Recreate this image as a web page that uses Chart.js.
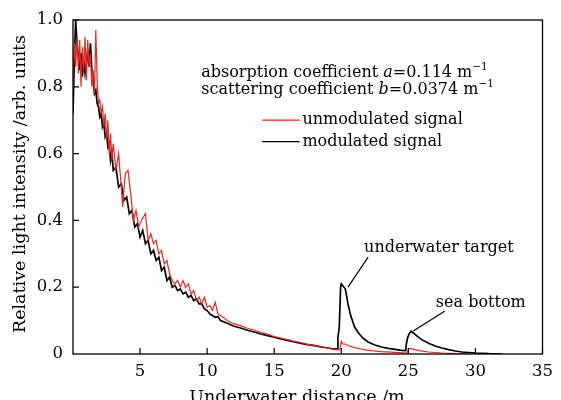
<!DOCTYPE html>
<html>
<head>
<meta charset="utf-8">
<script src="https://cdn.jsdelivr.net/npm/chart.js@4.4.1/dist/chart.umd.min.js"></script>
<style>
html,body{margin:0;padding:0;background:#fff;}
canvas{display:block;}
</style>
</head>
<body>
<canvas id="c" width="561" height="400"></canvas>
<script>
// ---- data ----
const xTicks = [5, 10, 15, 20, 25, 30, 35];
const yTicks = [0, 0.2, 0.4, 0.6, 0.8, 1.0];

const modX = [0.0,0.1,0.2,0.3,0.4,0.5,0.6,0.7,0.8,0.9,1.0,1.1,1.2,1.3,1.4,1.5,1.6,1.7,1.8,1.9,
  2.0,2.1,2.2,2.3,2.4,2.5,2.6,2.7,2.8,2.9,3.0,3.2,3.4,3.6,3.8,4.0,4.2,4.4,4.6,4.8,
  5.0,5.2,5.4,5.6,5.8,6.0,6.2,6.4,6.6,6.8,7.0,7.2,7.4,7.6,7.8,8.0,8.2,8.4,8.6,8.8,
  9.0,9.2,9.4,9.6,9.8,10.0,10.2,10.4,10.6,10.8,11.0,11.5,12.0,12.5,13.0,13.5,14.0,14.5,15.0,15.5,
  16.0,16.5,17.0,17.5,18.0,18.5,19.0,19.5,19.7,19.75,19.85,19.95,20.0,20.1,20.2,20.3,20.5,20.7,21.0,21.3,
  21.6,22.0,22.5,23.0,23.5,24.0,24.5,24.8,24.85,24.95,25.1,25.2,25.4,25.7,26.0,26.5,27.0,27.5,28.0,28.5,
  29.0,30.0,31.0,32.0];
const modY = [0.72,0.88,1.00,0.93,0.89,0.85,0.90,0.83,0.88,0.84,0.87,0.91,0.86,0.93,0.85,0.82,0.78,0.79,0.75,0.74,
  0.71,0.72,0.68,0.69,0.65,0.66,0.62,0.63,0.58,0.60,0.55,0.56,0.50,0.51,0.46,0.47,0.42,0.43,0.38,0.39,
  0.35,0.37,0.33,0.34,0.30,0.31,0.28,0.29,0.25,0.26,0.22,0.23,0.20,0.205,0.19,0.195,0.18,0.185,0.17,0.175,
  0.16,0.165,0.15,0.15,0.135,0.13,0.12,0.115,0.11,0.112,0.10,0.092,0.083,0.078,0.071,0.066,0.060,0.055,0.050,0.045,
  0.041,0.036,0.032,0.028,0.025,0.021,0.018,0.015,0.016,0.05,0.08,0.20,0.21,0.205,0.20,0.195,0.15,0.115,0.08,0.062,
  0.048,0.036,0.027,0.021,0.017,0.014,0.011,0.010,0.03,0.05,0.063,0.068,0.062,0.052,0.043,0.032,0.024,0.018,0.013,0.009,
  0.006,0.003,0.001,0.0];

const unmodX = [0.0,0.1,0.2,0.3,0.4,0.5,0.6,0.7,0.8,0.9,1.0,1.1,1.2,1.3,1.4,1.5,1.6,1.7,1.8,1.9,
  2.0,2.1,2.2,2.3,2.4,2.5,2.6,2.7,2.8,2.9,3.0,3.2,3.4,3.6,3.7,3.9,4.1,4.3,4.5,4.7,
  4.9,5.1,5.4,5.6,5.8,6.0,6.2,6.4,6.6,6.8,7.0,7.2,7.4,7.6,7.8,8.0,8.2,8.4,8.6,8.8,
  9.0,9.2,9.4,9.6,9.8,10.0,10.2,10.4,10.6,10.8,11.0,11.5,12.0,12.5,13.0,13.5,14.0,14.5,15.0,15.5,
  16.0,16.5,17.0,17.5,18.0,18.5,19.0,19.5,19.9,20.0,20.1,20.3,20.6,21.0,21.5,22.0,23.0,24.0,24.9,25.0,
  25.15,25.4,25.8,26.5,27.5,28.5,29.5];
const unmodY = [0.80,0.93,0.86,0.95,0.84,0.94,0.80,0.92,0.85,0.95,0.82,0.94,0.86,0.90,0.80,0.85,0.78,0.97,0.82,0.75,
  0.76,0.72,0.74,0.68,0.72,0.64,0.70,0.60,0.66,0.58,0.63,0.55,0.60,0.50,0.44,0.54,0.55,0.48,0.40,0.43,
  0.38,0.40,0.42,0.34,0.36,0.33,0.34,0.30,0.31,0.27,0.28,0.24,0.22,0.21,0.22,0.20,0.22,0.20,0.21,0.18,
  0.19,0.16,0.17,0.15,0.17,0.14,0.145,0.13,0.155,0.12,0.115,0.10,0.09,0.085,0.077,0.072,0.064,0.06,0.052,0.048,
  0.043,0.038,0.034,0.029,0.026,0.022,0.018,0.013,0.012,0.038,0.03,0.03,0.024,0.019,0.015,0.011,0.007,0.005,0.003,0.014,
  0.017,0.014,0.01,0.006,0.003,0.001,0.0];

const FONT = '"DejaVu Serif", serif';

function pts(xs, ys){ return xs.map((v,i)=>({x:v, y:ys[i]})); }

function drawRich(ctx, x, y, segs){
  let cx = x;
  for (const s of segs){
    ctx.font = s.font;
    ctx.fillText(s.t, cx, y + (s.dy||0));
    cx += ctx.measureText(s.t).width;
  }
}

const decor = {
  id:'decor',
  afterDraw(chart){
    const {ctx, chartArea:{left,right,top,bottom}, scales:{x,y}} = chart;
    ctx.save();
    ctx.strokeStyle = '#000';
    ctx.lineWidth = 1.3;
    ctx.strokeRect(left, top, right-left, bottom-top);
    ctx.lineWidth = 1.2;
    ctx.beginPath();
    for (const v of xTicks){ const px = x.getPixelForValue(v); ctx.moveTo(px, bottom); ctx.lineTo(px, bottom-6); }
    for (const v of yTicks){ if (v===0) continue; const py = y.getPixelForValue(v); ctx.moveTo(left, py); ctx.lineTo(left+6, py); }
    ctx.stroke();

    ctx.fillStyle = '#000';
    ctx.textBaseline = 'middle';
    ctx.textAlign = 'left';
    const f = '16px ' + FONT, fi = 'italic 16px ' + FONT, fs = '10.5px ' + FONT;
    drawRich(ctx, x.getPixelForValue(9.56), y.getPixelForValue(0.842), [
      {t:'absorption coefficient ', font:f},{t:'a', font:fi},{t:'=0.114 m', font:f},{t:'\u22121', font:fs, dy:-6}]);
    drawRich(ctx, x.getPixelForValue(9.56), y.getPixelForValue(0.791), [
      {t:'scattering coefficient ', font:f},{t:'b', font:fi},{t:'=0.0374 m', font:f},{t:'\u22121', font:fs, dy:-6}]);

    // legend
    ctx.lineWidth = 1.2;
    ctx.strokeStyle = '#e8261e';
    ctx.beginPath();
    ctx.moveTo(x.getPixelForValue(14.1), y.getPixelForValue(0.70));
    ctx.lineTo(x.getPixelForValue(16.9), y.getPixelForValue(0.70));
    ctx.stroke();
    ctx.strokeStyle = '#000';
    ctx.beginPath();
    ctx.moveTo(x.getPixelForValue(14.1), y.getPixelForValue(0.636));
    ctx.lineTo(x.getPixelForValue(16.9), y.getPixelForValue(0.636));
    ctx.stroke();
    ctx.font = f;
    ctx.fillText('unmodulated signal', x.getPixelForValue(17.1), y.getPixelForValue(0.70));
    ctx.fillText('modulated signal', x.getPixelForValue(17.1), y.getPixelForValue(0.636));

    // annotations
    ctx.fillText('underwater target', x.getPixelForValue(21.7), y.getPixelForValue(0.317));
    ctx.fillText('sea bottom', x.getPixelForValue(27.05), y.getPixelForValue(0.152));
    ctx.lineWidth = 1.2;
    ctx.beginPath();
    ctx.moveTo(x.getPixelForValue(22.0), y.getPixelForValue(0.29));
    ctx.lineTo(x.getPixelForValue(20.5), y.getPixelForValue(0.20));
    ctx.moveTo(x.getPixelForValue(27.7), y.getPixelForValue(0.128));
    ctx.lineTo(x.getPixelForValue(25.37), y.getPixelForValue(0.069));
    ctx.stroke();

    // axis titles
    ctx.font = '17.5px ' + FONT;
    ctx.textAlign = 'center';
    ctx.fillText('Underwater distance /m', 297, 397);
    ctx.save();
    ctx.translate(20, 184);
    ctx.rotate(-Math.PI/2);
    ctx.fillText('Relative light intensity /arb. units', 0, 0);
    ctx.restore();
    ctx.restore();
  }
};

new Chart(document.getElementById('c'), {
  type: 'line',
  data: {
    datasets: [
      { label:'unmodulated signal', data: pts(unmodX, unmodY), borderColor:'#e8261e', borderWidth:1.2, pointRadius:0, tension:0, fill:false },
      { label:'modulated signal', data: pts(modX, modY), borderColor:'#000', borderWidth:1.7, pointRadius:0, tension:0, fill:false }
    ]
  },
  options: {
    responsive:false, animation:false, devicePixelRatio:1,
    layout:{ padding:{ top:20, right:12, left:0, bottom:0 } },
    plugins:{ legend:{display:false}, tooltip:{enabled:false} },
    scales:{
      x:{ type:'linear', min:0, max:35,
        afterFit(s){ s.height = 46; },
        grid:{ display:false, drawTicks:false },
        border:{ display:false },
        afterBuildTicks(s){ s.ticks = xTicks.map(v=>({value:v})); },
        ticks:{ color:'#000', font:{ family:FONT, size:16.5 }, padding:8, maxRotation:0,
          callback:(v)=> String(v) }
      },
      y:{ min:0, max:1,
        afterFit(s){ s.width = 73; },
        grid:{ display:false, drawTicks:false },
        border:{ display:false },
        afterBuildTicks(s){ s.ticks = yTicks.map(v=>({value:v})); },
        ticks:{ color:'#000', font:{ family:FONT, size:16.5 }, padding:10,
          callback:(v)=> v===0 ? '0' : v.toFixed(1) }
      }
    }
  },
  plugins:[decor]
});
</script>
</body>
</html>
